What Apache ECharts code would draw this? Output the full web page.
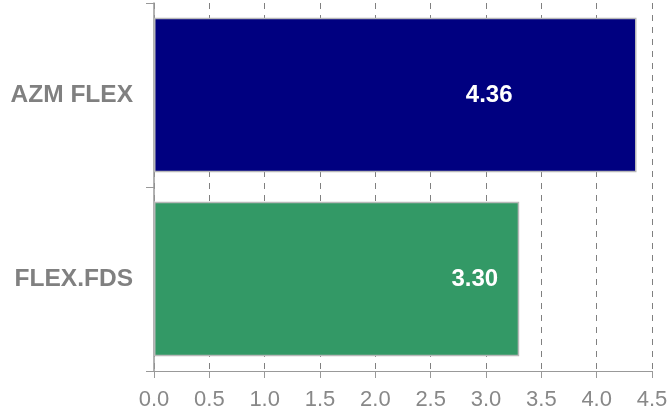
<!DOCTYPE html>
<html>
<head>
<meta charset="utf-8">
<script src="https://cdn.jsdelivr.net/npm/echarts@6/dist/echarts.min.js"></script>
<style>
  html, body { margin: 0; padding: 0; background: #fff; }
  #chart { width: 672px; height: 413px; }
</style>
</head>
<body>
<div id="chart"></div>
<script>
// Product names and their scores
const categories = ['AZM FLEX', 'FLEX.FDS'];
const scores = [4.36, 3.30];
const barColors = ['#000080', '#339966'];

// Value axis range
const axisMin = 0;
const axisMax = 4.5;
const axisStep = 0.5;

// Distance of each value label from the end of its bar
const labelInset = [124, 21];

const chart = echarts.init(document.getElementById('chart'), null, { renderer: 'canvas' });

chart.setOption({
  animation: false,
  backgroundColor: '#ffffff',
  grid: { left: 154, right: 20, top: 3, bottom: 42, containLabel: false },
  xAxis: {
    type: 'value',
    min: axisMin,
    max: axisMax,
    interval: axisStep,
    axisLine: { show: true, lineStyle: { color: '#999999', width: 1 } },
    axisTick: { show: true, length: 7, lineStyle: { color: '#999999', width: 1 } },
    axisLabel: {
      margin: 18,
      color: '#888888',
      fontSize: 22,
      fontFamily: 'Liberation Sans, Arial, sans-serif',
      formatter: v => v.toFixed(1)
    },
    splitLine: {
      show: true,
      lineStyle: { color: '#808080', width: 1, type: [6, 6] }
    }
  },
  yAxis: {
    type: 'category',
    data: categories,
    inverse: true,
    axisLine: { show: true, lineStyle: { color: '#999999', width: 1.5 } },
    axisTick: { show: true, length: 8, lineStyle: { color: '#999999', width: 1 } },
    axisLabel: {
      margin: 21,
      color: '#808080',
      fontSize: 24.5,
      fontWeight: 'bold',
      fontFamily: 'Liberation Sans, Arial, sans-serif'
    },
    splitLine: { show: false }
  },
  series: [{
    type: 'bar',
    barCategoryGap: '16%',
    data: scores.map((v, i) => ({
      value: v,
      itemStyle: { color: barColors[i] },
      label: { distance: labelInset[i] }
    })),
    itemStyle: { borderColor: '#b8b8b8', borderWidth: 1.5 },
    label: {
      show: true,
      position: 'insideRight',
      color: '#ffffff',
      fontSize: 24,
      fontWeight: 'bold',
      fontFamily: 'Liberation Sans, Arial, sans-serif',
      formatter: p => p.value.toFixed(2)
    }
  }]
});
</script>
</body>
</html>
